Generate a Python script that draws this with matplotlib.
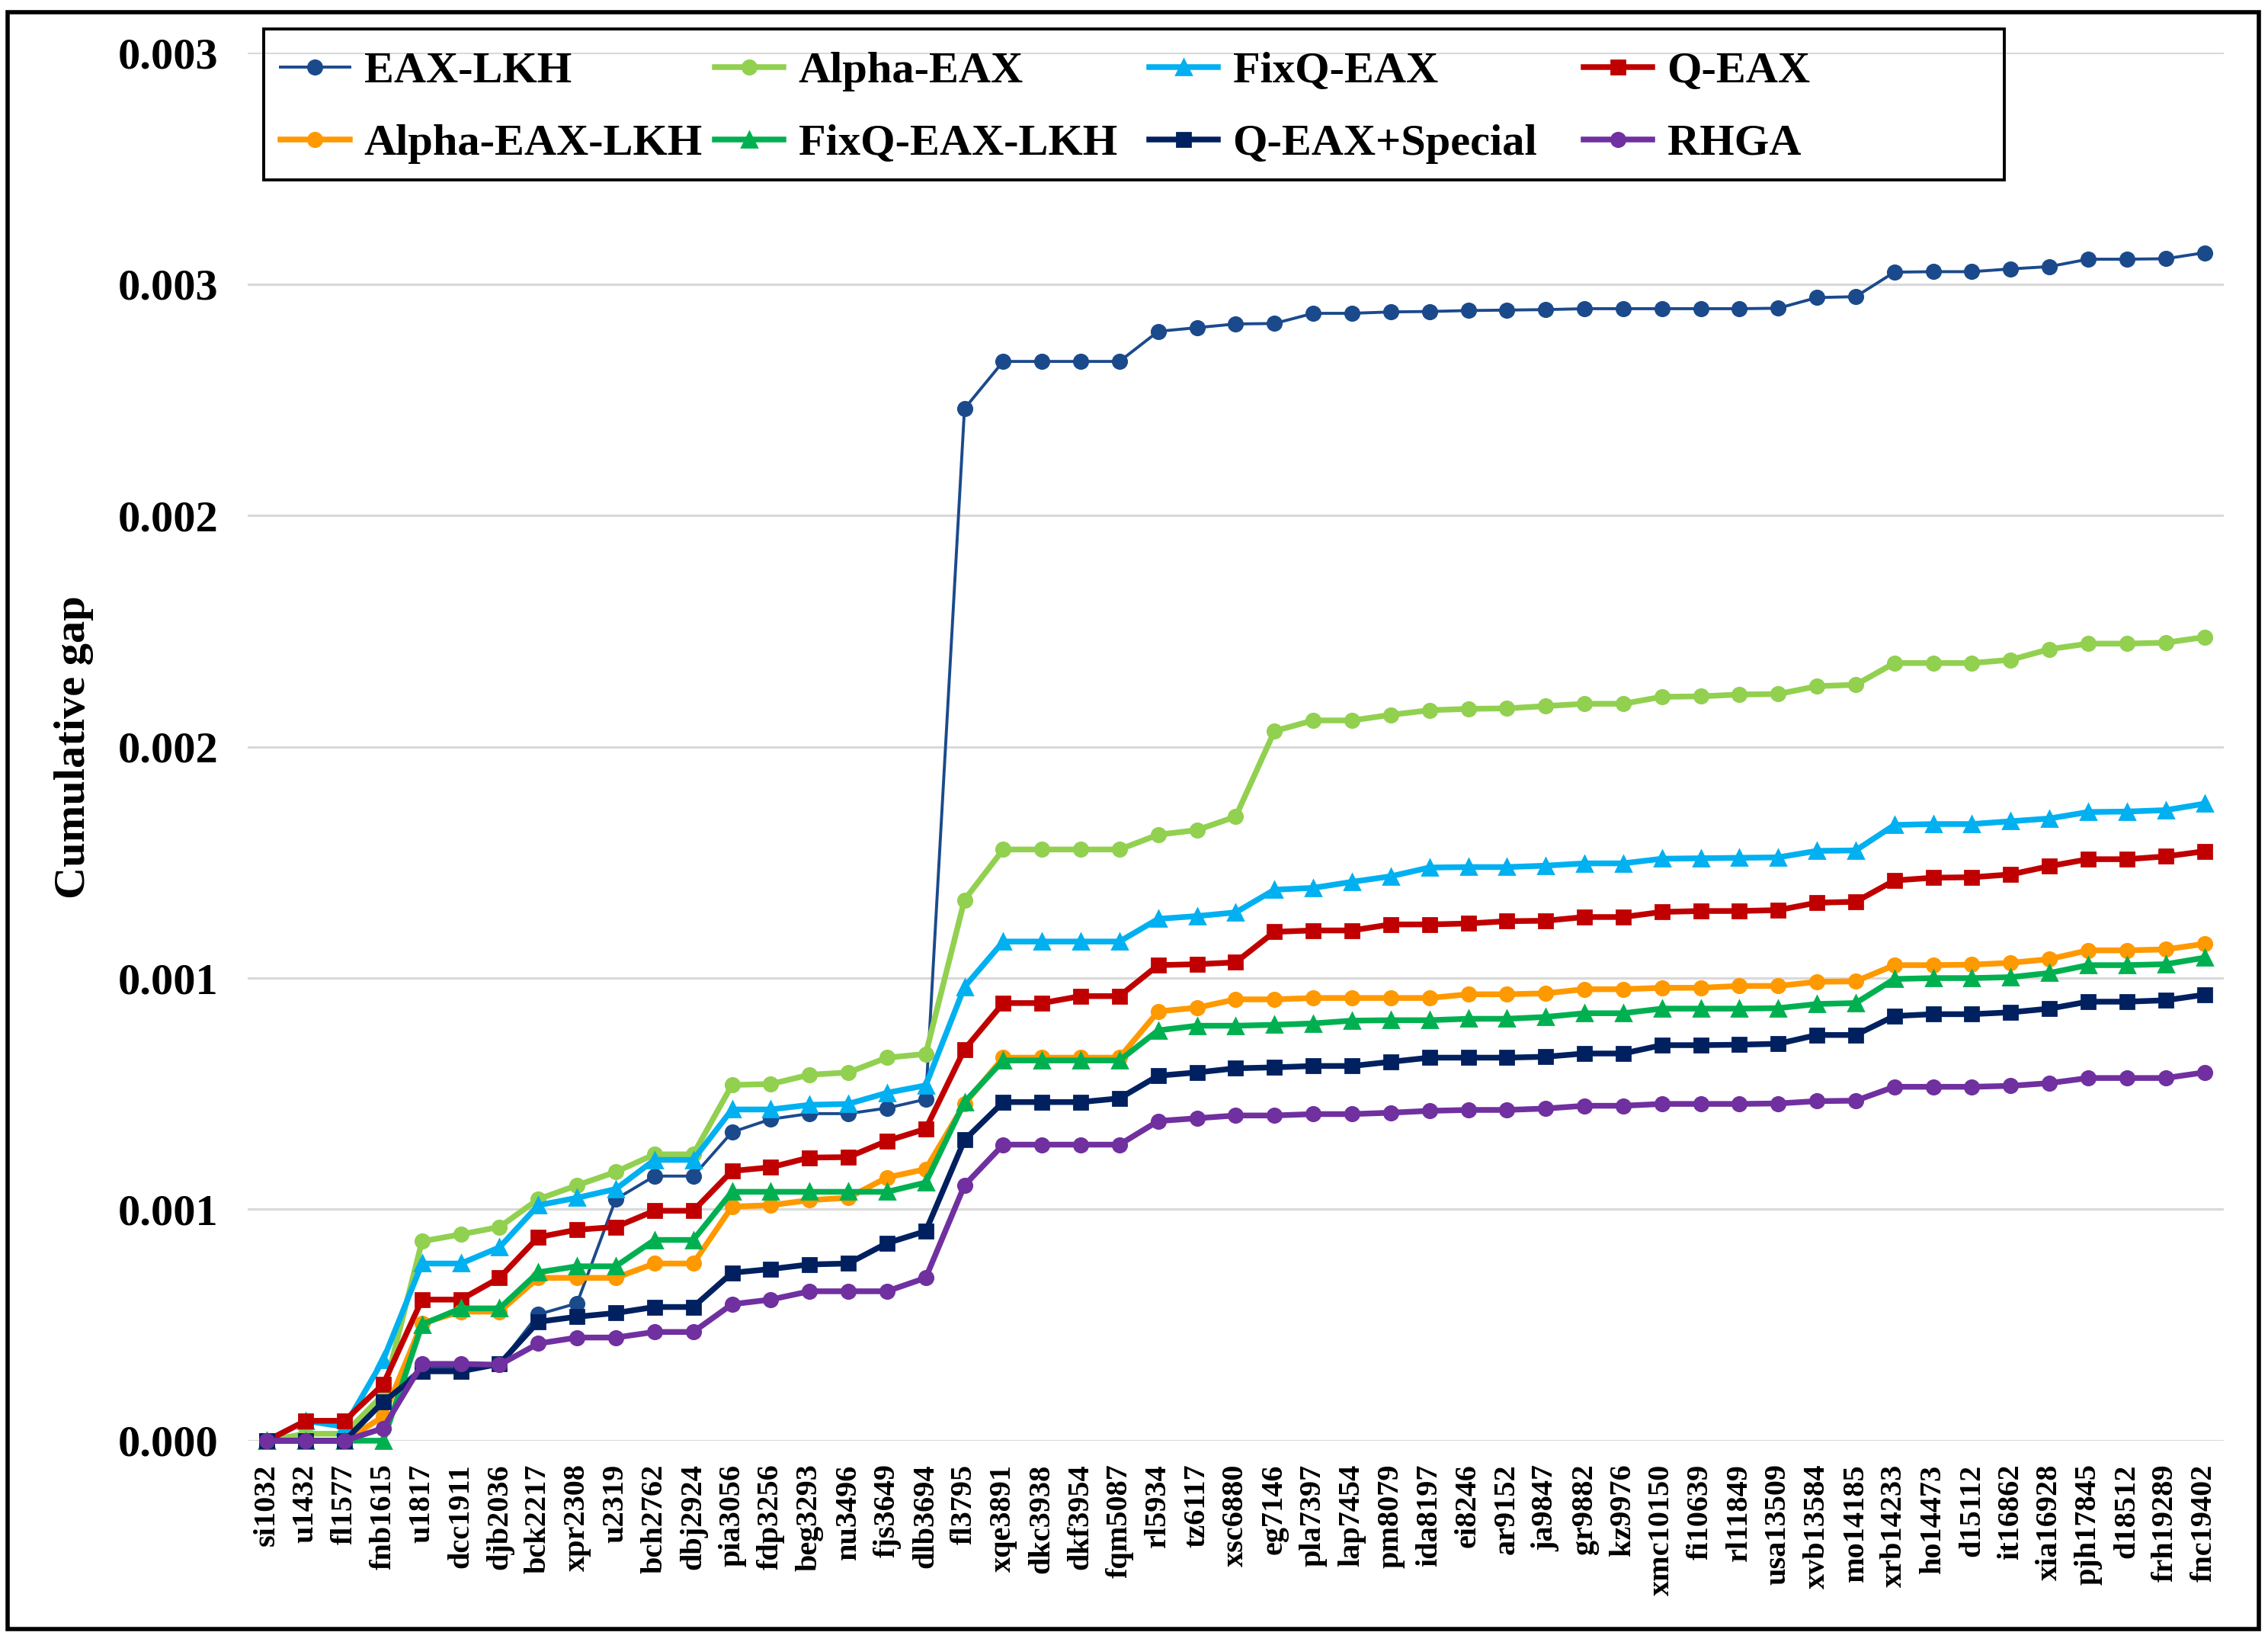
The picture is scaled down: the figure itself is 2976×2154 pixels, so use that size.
import matplotlib.pyplot as plt
from matplotlib.patches import Rectangle
import numpy as np

instances = ['si1032', 'u1432', 'fl1577', 'fnb1615', 'u1817', 'dcc1911', 'djb2036', 'bck2217',
             'xpr2308', 'u2319', 'bch2762', 'dbj2924', 'pia3056', 'fdp3256', 'beg3293', 'nu3496',
             'fjs3649', 'dlb3694', 'fl3795', 'xqe3891', 'dkc3938', 'dkf3954', 'fqm5087', 'rl5934',
             'tz6117', 'xsc6880', 'eg7146', 'pla7397', 'lap7454', 'pm8079', 'ida8197', 'ei8246',
             'ar9152', 'ja9847', 'gr9882', 'kz9976', 'xmc10150', 'fi10639', 'rl11849', 'usa13509',
             'xvb13584', 'mo14185', 'xrb14233', 'ho14473', 'd15112', 'it16862', 'xia16928',
             'pjh17845', 'd18512', 'frh19289', 'fnc19402']

eax_lkh = [0, 0, 0, 0.00009, 0.000158, 0.000158, 0.000165, 0.000273, 0.000297, 0.000522,
           0.000572, 0.000572, 0.000667, 0.000695, 0.000707, 0.000707, 0.000719, 0.000738,
           0.002231, 0.002333, 0.002333, 0.002333, 0.002333, 0.002398, 0.002406, 0.002414,
           0.002415, 0.002437, 0.002437, 0.00244, 0.002441, 0.002443, 0.002444, 0.002445,
           0.002447, 0.002447, 0.002447, 0.002447, 0.002447, 0.002448, 0.002471, 0.002473,
           0.002526, 0.002527, 0.002527, 0.002533, 0.002538, 0.002554, 0.002554, 0.002555,
           0.002568]
alpha_eax = [0, 0.000015, 0.000015, 0.0001, 0.000431, 0.000446, 0.000462, 0.000522, 0.000552,
             0.000581, 0.000619, 0.000619, 0.000769, 0.000771, 0.000791, 0.000796, 0.000828,
             0.000836, 0.001169, 0.001278, 0.001278, 0.001278, 0.001278, 0.00131, 0.00132,
             0.001349, 0.001534, 0.001557, 0.001557, 0.001569, 0.001579, 0.001582, 0.001583,
             0.001588, 0.001593, 0.001593, 0.001608, 0.001609, 0.001613, 0.001614, 0.001631,
             0.001634, 0.001681, 0.001681, 0.001681, 0.001688, 0.001711, 0.001723, 0.001723,
             0.001725, 0.001737]
fixq_eax = [0, 0.000043, 0.00003, 0.000175, 0.000383, 0.000383, 0.000418, 0.000509, 0.000525,
            0.000544, 0.000607, 0.000607, 0.000716, 0.000716, 0.000726, 0.000728, 0.000752,
            0.000768, 0.000981, 0.001079, 0.001079, 0.001079, 0.001079, 0.001128, 0.001134,
            0.001142, 0.001191, 0.001195, 0.001208, 0.00122, 0.001239, 0.00124, 0.00124,
            0.001243, 0.001248, 0.001248, 0.001258, 0.001259, 0.00126, 0.001261, 0.001275,
            0.001276, 0.001331, 0.001333, 0.001333, 0.001339, 0.001345, 0.001359, 0.00136,
            0.001363, 0.001377]
q_eax = [0, 0.000043, 0.000043, 0.000122, 0.000305, 0.000305, 0.000352, 0.00044, 0.000456,
         0.000462, 0.000497, 0.000497, 0.000583, 0.000591, 0.000612, 0.000613, 0.000648,
         0.000674, 0.000846, 0.000946, 0.000946, 0.000961, 0.000961, 0.001028, 0.00103,
         0.001034, 0.0011, 0.001103, 0.001103, 0.001116, 0.001116, 0.001118, 0.001123,
         0.001124, 0.001132, 0.001132, 0.001143, 0.001145, 0.001145, 0.001147, 0.001163,
         0.001165, 0.001211, 0.001217, 0.001218, 0.001224, 0.001242, 0.001257, 0.001257,
         0.001263, 0.001274]
alpha_eax_lkh = [0, 0, 0, 0.000052, 0.000254, 0.000279, 0.000279, 0.000352, 0.000352, 0.000352,
                 0.000383, 0.000383, 0.000506, 0.000509, 0.00052, 0.000525, 0.000569, 0.000587,
                 0.000728, 0.000828, 0.000828, 0.000828, 0.000828, 0.000928, 0.000936, 0.000954,
                 0.000954, 0.000957, 0.000957, 0.000957, 0.000957, 0.000965, 0.000965, 0.000967,
                 0.000976, 0.000976, 0.000979, 0.000979, 0.000983, 0.000983, 0.000992, 0.000993,
                 0.001028, 0.001028, 0.001029, 0.001033, 0.001041, 0.00106, 0.00106, 0.001062,
                 0.001074]
fixq_eax_lkh = [0, 0, 0, 0, 0.000251, 0.000286, 0.000286, 0.000364, 0.000377, 0.000377,
                0.000434, 0.000434, 0.000538, 0.000538, 0.000538, 0.000538, 0.000538, 0.000558,
                0.000732, 0.000822, 0.000822, 0.000822, 0.000822, 0.000887, 0.000897, 0.000897,
                0.000899, 0.000902, 0.000908, 0.000909, 0.000909, 0.000912, 0.000912, 0.000916,
                0.000924, 0.000924, 0.000934, 0.000934, 0.000934, 0.000935, 0.000944, 0.000946,
                0.000998, 0.001, 0.001, 0.001002, 0.001011, 0.001028, 0.001028, 0.00103,
                0.001044]
q_eax_special = [0, 0, 0, 0.000084, 0.00015, 0.00015, 0.000166, 0.000257, 0.000268, 0.000276,
                 0.000289, 0.000289, 0.000363, 0.000371, 0.000381, 0.000383, 0.000427, 0.000453,
                 0.00065, 0.000732, 0.000732, 0.000732, 0.00074, 0.000789, 0.000796, 0.000805,
                 0.000807, 0.00081, 0.00081, 0.000819, 0.000828, 0.000828, 0.000828, 0.00083,
                 0.000837, 0.000837, 0.000855, 0.000855, 0.000856, 0.000858, 0.000877, 0.000877,
                 0.000918, 0.000922, 0.000922, 0.000926, 0.000934, 0.000949, 0.000949, 0.000952,
                 0.000964]
rhga = [0, 0, 0, 0.000027, 0.000166, 0.000166, 0.000164, 0.00021, 0.000223, 0.000223,
        0.000235, 0.000235, 0.000295, 0.000305, 0.000323, 0.000323, 0.000323, 0.000352,
        0.000552, 0.00064, 0.00064, 0.00064, 0.00064, 0.000691, 0.000697, 0.000703,
        0.000703, 0.000706, 0.000706, 0.000709, 0.000713, 0.000715, 0.000715, 0.000718,
        0.000724, 0.000724, 0.000728, 0.000728, 0.000728, 0.000729, 0.000734, 0.000735,
        0.000765, 0.000765, 0.000765, 0.000767, 0.000773, 0.000784, 0.000784, 0.000784,
        0.000796]

y_ticks = [0, 0.0005, 0.001, 0.0015, 0.002, 0.0025, 0.003]
y_tick_labels = ['0.000', '0.001', '0.001', '0.002', '0.002', '0.003', '0.003']

# name, values, color, marker, line width
series = [
    ('EAX-LKH', eax_lkh, '#1B4A8C', 'o', 1.4),
    ('Alpha-EAX', alpha_eax, '#92D050', 'o', 2.7),
    ('FixQ-EAX', fixq_eax, '#00B0F0', '^', 2.7),
    ('Q-EAX', q_eax, '#C00000', 's', 2.7),
    ('Alpha-EAX-LKH', alpha_eax_lkh, '#FF9900', 'o', 2.7),
    ('FixQ-EAX-LKH', fixq_eax_lkh, '#00B050', '^', 2.7),
    ('Q-EAX+Special', q_eax_special, '#002060', 's', 2.7),
    ('RHGA', rhga, '#7030A0', 'o', 2.7),
]

plt.rcParams['font.family'] = ['Liberation Serif', 'DejaVu Serif']
plt.rcParams['font.weight'] = 'bold'

fig = plt.figure(figsize=(14.88, 10.77), dpi=200)
ax = fig.add_axes([0.1092, 0.1226, 0.8713, 0.8452])

x = np.arange(len(instances))
handles = {}
for name, vals, color, marker, lw in series:
    ms = 7.5 if marker == '^' else 6.6
    line, = ax.plot(x, vals, color=color, marker=marker, lw=lw, ms=ms,
                    label=name, clip_on=False)
    handles[name] = line

ax.set_xlim(-0.5, len(instances) - 0.5)
ax.set_ylim(0, 0.003)
ax.set_xticks(x)
ax.set_xticklabels(instances, rotation=90, fontsize=14.5, fontweight='bold')
ax.set_yticks(y_ticks)
ax.set_yticklabels(y_tick_labels, fontsize=21, fontweight='bold')
ax.tick_params(axis='both', length=0)
ax.tick_params(axis='x', pad=11)
ax.tick_params(axis='y', pad=14)
ax.grid(axis='y', color='#D9D9D9', lw=1.1)
ax.set_axisbelow(True)
for sp in ax.spines.values():
    sp.set_visible(False)

ax.set_ylabel('Cumulative gap', fontsize=21, fontweight='bold')
ax.yaxis.set_label_coords(-0.078, 0.5)

# legend: four equal-width columns of two rows each, inside one box
legend_cols = [['EAX-LKH', 'Alpha-EAX-LKH'], ['Alpha-EAX', 'FixQ-EAX-LKH'],
               ['FixQ-EAX', 'Q-EAX+Special'], ['Q-EAX', 'RHGA']]
col_left = [0.1237, 0.3152, 0.5067, 0.6982]
for names, xl in zip(legend_cols, col_left):
    fig.legend([handles[n] for n in names], names, loc='center left',
               bbox_to_anchor=(xl, 0.9345), prop={'size': 21, 'weight': 'bold'},
               frameon=False, handlelength=1.55, handletextpad=0.33,
               labelspacing=0.72, borderpad=0, borderaxespad=0)

fig.patches.append(Rectangle((0.1163, 0.8904), 0.7675, 0.0919, transform=fig.transFigure,
                             fill=False, edgecolor='black', lw=1.4))
fig.patches.append(Rectangle((0.0035, 0.008), 0.9925, 0.9845, transform=fig.transFigure,
                             fill=False, edgecolor='black', lw=2))

fig.savefig('out.png', dpi=200)
